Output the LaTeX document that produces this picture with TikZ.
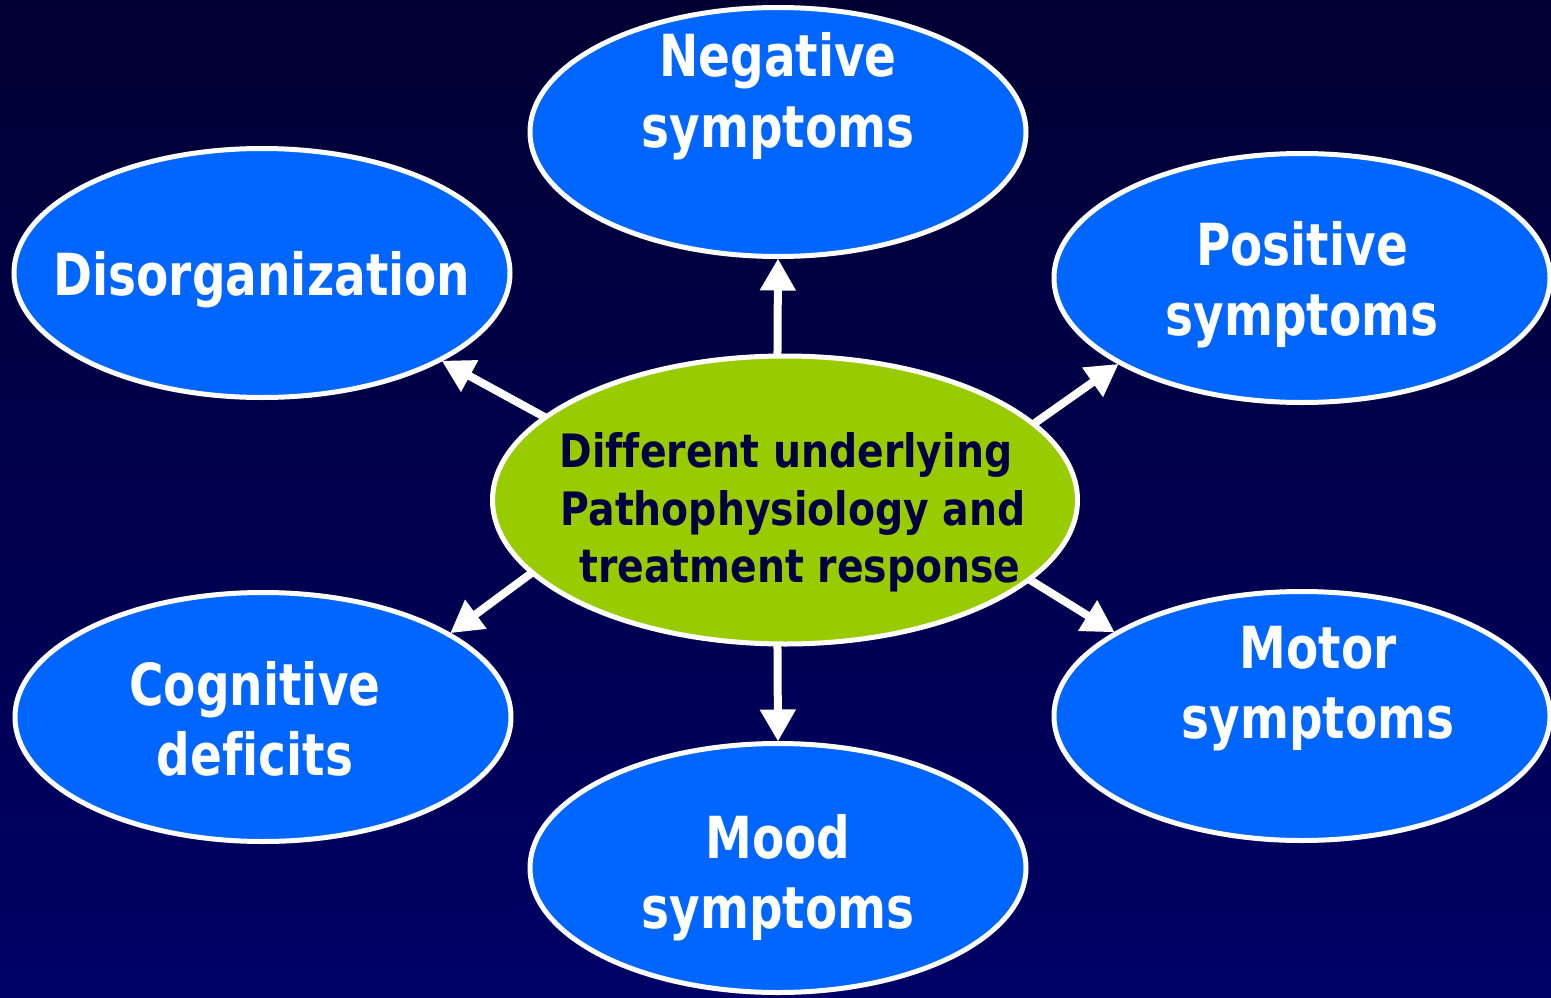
\documentclass[tikz,border=0pt]{standalone}
\usepackage{fontspec}
\setmainfont{DejaVu Sans}[FakeStretch=0.81,Ligatures=NoCommon]
\newfontfamily\corefont{DejaVu Sans}[FakeStretch=0.855,Ligatures=NoCommon]
\usetikzlibrary{shapes.geometric,arrows.meta}
\definecolor{bgtop}{HTML}{000033}
\definecolor{bgbot}{HTML}{000066}
\definecolor{blob}{HTML}{0066FF}
\definecolor{core}{HTML}{99CC00}
\definecolor{ink}{HTML}{000040}
\tikzset{
  outer/.style={ellipse, draw=white, line width=5pt, fill=blob, minimum width=496pt, minimum height=249pt, inner sep=0pt, outer sep=0pt},
  corebox/.style={ellipse, draw=white, line width=5pt, fill=core, minimum width=585pt, minimum height=288pt, inner sep=0pt, outer sep=0pt},
  wtxt/.style={anchor=base, text=white, font=\bfseries\fontsize{58}{70}\selectfont, inner sep=0pt},
  ctxt/.style={anchor=base, text=ink, font=\corefont\bfseries\fontsize{46}{57}\selectfont, inner sep=0pt},
  arr/.style={draw=white, line width=8pt, -{Triangle[length=32pt,width=34pt]}, shorten >=2pt}
}
\begin{document}
\begin{tikzpicture}[x=1pt,y=-1pt]
\shade[top color=bgtop, bottom color=bgbot] (0,0) rectangle (1551,998);
\useasboundingbox (0,0) rectangle (1551,998);
\node[outer] (neg) at (778,132) {};
\node[outer] (dis) at (262,273) {};
\node[outer] (pos) at (1302,278) {};
\node[outer] (cog) at (263,717) {};
\node[outer] (mot) at (1302,716) {};
\node[outer] (mood) at (778,868) {};
\node[corebox] (c) at (785,500) {};
\draw[arr] (c.93.6) -- (neg.south);
\draw[arr] (c.161.5) -- (dis.-26.6);
\draw[arr] (c.17.3) -- (pos.-155.9);
\draw[arr] (c.196) -- (cog.24.4);
\draw[arr] (c.267.3) -- (mood.north);
\draw[arr] (c.-18) -- (mot.156.3);
\node[wtxt] (neg1) at (778,77) {Negative};
\node[wtxt] (neg2) at (778,147) {symptoms};
\node[wtxt] (dis1) at (262,295) {Disorganization};
\node[wtxt] (pos1) at (1302,265) {Positive};
\node[wtxt] (pos2) at (1302,335) {symptoms};
\node[wtxt] (cog1) at (255,705) {Cognitive};
\node[wtxt] (cog2) at (255,775) {deficits};
\node[wtxt] (mood1) at (778,858) {Mood};
\node[wtxt] (mood2) at (778,928) {symptoms};
\node[wtxt] (mot1) at (1318,668) {Motor};
\node[wtxt] (mot2) at (1318,738) {symptoms};
\node[ctxt] (c1) at (786,467) {Different underlying};
\node[ctxt] (c2) at (793,525) {Pathophysiology and};
\node[ctxt] (c3) at (800,582) {treatment response};
\end{tikzpicture}
\end{document}
